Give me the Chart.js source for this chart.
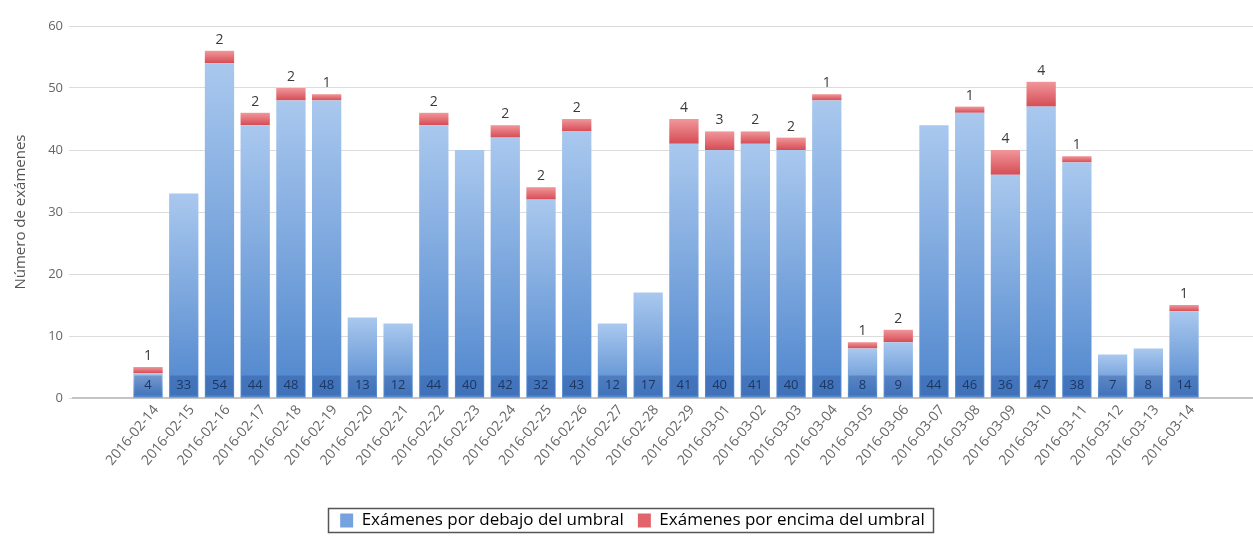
<!DOCTYPE html>
<html>
<head>
<meta charset="utf-8">
<script src="https://cdn.jsdelivr.net/npm/chart.js@4/dist/chart.umd.min.js"></script>
<style>
  html, body { margin: 0; padding: 0; background: #ffffff; }
  #wrap { width: 1253px; height: 551px; }
</style>
</head>
<body>
<div id="wrap"><canvas id="c" width="1253" height="551"></canvas></div>
<script>
// Daily exam counts, split by whether they fall under or over the threshold
const dates = [
  '2016-02-14','2016-02-15','2016-02-16','2016-02-17','2016-02-18','2016-02-19',
  '2016-02-20','2016-02-21','2016-02-22','2016-02-23','2016-02-24','2016-02-25',
  '2016-02-26','2016-02-27','2016-02-28','2016-02-29','2016-03-01','2016-03-02',
  '2016-03-03','2016-03-04','2016-03-05','2016-03-06','2016-03-07','2016-03-08',
  '2016-03-09','2016-03-10','2016-03-11','2016-03-12','2016-03-13','2016-03-14'
];
const belowThreshold = [4,33,54,44,48,48,13,12,44,40,42,32,43,12,17,41,40,41,40,48,8,9,44,46,36,47,38,7,8,14];
const aboveThreshold = [1,0,2,2,2,1,0,0,2,0,2,2,2,0,0,4,3,2,2,1,1,2,0,1,4,4,1,0,0,1];
const yTicks = [0,10,20,30,40,50,60];

const seriesNames = ['Exámenes por debajo del umbral', 'Exámenes por encima del umbral'];
const FONT = '"Open Sans", "DejaVu Sans", sans-serif';

const toPoints = arr => arr.map((v, i) => ({ x: i, y: v }));

// Vertical gradient per bar: light at the top, deeper at the base
const palettes = [
  { top: '#a9c8ee', bottom: '#4f86cd', solid: '#76a3dd' },
  { top: '#f0979a', bottom: '#d64c55', solid: '#e0646a' }
];
const barGradients = {
  id: 'barGradients',
  beforeDatasetsDraw(chart) {
    const ctx = chart.ctx;
    chart.data.datasets.forEach((ds, di) => {
      const meta = chart.getDatasetMeta(di);
      const pal = palettes[di];
      meta.data.forEach(el => {
        const top = Math.min(el.y, el.base);
        const bot = Math.max(el.y, el.base);
        if (!isFinite(top) || bot - top < 0.5) return;
        const g = ctx.createLinearGradient(0, top, 0, bot);
        g.addColorStop(0, pal.top);
        g.addColorStop(1, pal.bottom);
        el.options.backgroundColor = g;
      });
    });
  }
};

// Value labels: under-threshold count at the bar base, over-threshold count above the stack
const valueLabels = {
  id: 'valueLabels',
  afterDatasetsDraw(chart) {
    const ctx = chart.ctx;
    const blue = chart.getDatasetMeta(0);
    const red = chart.getDatasetMeta(1);
    ctx.save();
    ctx.textAlign = 'center';
    ctx.textBaseline = 'middle';
    blue.data.forEach((el, i) => {
      const v = belowThreshold[i];
      if (!v) return;
      const w = el.width;
      ctx.fillStyle = 'rgba(35, 75, 150, 0.35)';
      ctx.fillRect(el.x - w / 2 + 1, el.base - 22, w - 2, 20);
      ctx.fillStyle = '#1b3764';
      ctx.font = '13px ' + FONT;
      ctx.fillText(String(v), el.x, el.base - 12);
    });
    red.data.forEach((el, i) => {
      const v = aboveThreshold[i];
      if (!v) return;
      ctx.fillStyle = '#3a3a3a';
      ctx.font = '14px ' + FONT;
      ctx.fillText(String(v), el.x, el.y - 11);
    });
    ctx.restore();
  }
};

// Frame drawn around the legend items
const legendFrame = {
  id: 'legendFrame',
  afterDraw(chart) {
    const boxes = chart.legend && chart.legend.legendHitBoxes;
    if (!boxes || !boxes.length) return;
    let l = Infinity, r = -Infinity, t = Infinity, b = -Infinity;
    boxes.forEach(h => {
      l = Math.min(l, h.left); r = Math.max(r, h.left + h.width);
      t = Math.min(t, h.top); b = Math.max(b, h.top + h.height);
    });
    const ctx = chart.ctx;
    ctx.save();
    ctx.strokeStyle = '#555555';
    ctx.lineWidth = 1.5;
    ctx.strokeRect(Math.round(l - 12) + 0.5, Math.round(t - 4) + 0.5, Math.round(r - l + 20), Math.round(b - t + 7));
    ctx.restore();
  }
};

new Chart(document.getElementById('c'), {
  type: 'bar',
  data: {
    datasets: [
      { label: seriesNames[0], data: toPoints(belowThreshold), backgroundColor: () => palettes[0].solid, borderWidth: 0 },
      { label: seriesNames[1], data: toPoints(aboveThreshold), backgroundColor: () => palettes[1].solid, borderWidth: 0 }
    ]
  },
  options: {
    responsive: false,
    animation: false,
    barPercentage: 0.82,
    categoryPercentage: 1.0,
    layout: { padding: { top: 26, right: 0, left: 12, bottom: 12 } },
    scales: {
      x: {
        type: 'linear',
        stacked: true,
        min: -2.1,
        max: 30.93,
        offset: false,
        grid: { display: false, drawTicks: false },
        border: { display: true, color: '#c4c4c4', width: 2 },
        afterBuildTicks(scale) {
          scale.ticks = dates.map((d, i) => ({ value: i }));
        },
        afterFit(scale) { scale.height = 100; },
        ticks: {
          autoSkip: false,
          minRotation: 50,
          maxRotation: 50,
          padding: 4,
          labelOffset: 8,
          color: '#666666',
          font: { family: FONT, size: 14 },
          callback: v => dates[v] ?? ''
        }
      },
      y: {
        stacked: true,
        min: 0,
        max: 60,
        afterBuildTicks(scale) {
          scale.ticks = yTicks.map(v => ({ value: v }));
        },
        afterFit(scale) { scale.width = 61; },
        grid: { color: '#dcdcdc', lineWidth: 1, drawTicks: true, tickLength: 4 },
        border: { display: false },
        ticks: {
          padding: 6,
          color: '#666666',
          font: { family: FONT, size: 13 }
        },
        title: {
          display: true,
          text: 'Número de exámenes',
          color: '#555555',
          padding: { top: 0, bottom: 2 },
          font: { family: FONT, size: 15 }
        }
      }
    },
    plugins: {
      legend: {
        display: true,
        position: 'bottom',
        labels: {
          boxWidth: 13,
          boxHeight: 14,
          padding: 14,
          color: '#555555',
          font: { family: FONT, size: 17 },
          generateLabels(chart) {
            return chart.data.datasets.map((ds, i) => ({
              text: ds.label,
              fillStyle: palettes[i].solid,
              strokeStyle: palettes[i].solid,
              lineWidth: 0,
              datasetIndex: i,
              hidden: false
            }));
          }
        }
      },
      tooltip: { enabled: false }
    }
  },
  plugins: [barGradients, valueLabels, legendFrame]
});
</script>
</body>
</html>
